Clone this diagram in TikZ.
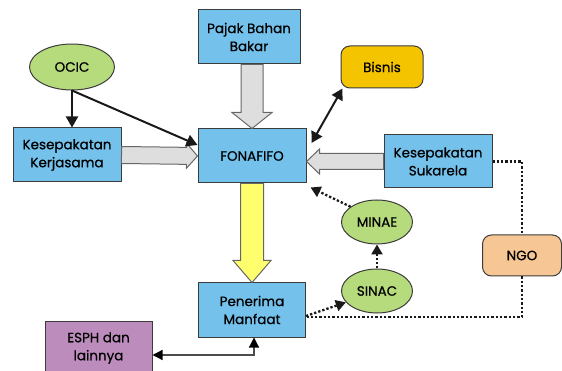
\documentclass[tikz,border=0pt]{standalone}
\usepackage{fontspec}
\setmainfont{Poppins}[FakeBold=0.7]
\usepackage{tikz}
\usetikzlibrary{arrows.meta,calc,shapes.geometric}

\definecolor{boxblue}{RGB}{116,194,235}
\definecolor{ovalgreen}{RGB}{182,219,124}
\definecolor{bisnisgold}{RGB}{245,196,0}
\definecolor{ngopeach}{RGB}{246,198,148}
\definecolor{esphpurple}{RGB}{188,140,188}
\definecolor{arrowgray}{RGB}{222,222,222}
\definecolor{arrowyellow}{RGB}{255,255,110}
\definecolor{edgegray}{RGB}{60,60,60}

% #1 style, #2 from, #3 to, #4 half shaft, #5 half head, #6 head length
\newcommand{\fatarrow}[6]{
    \coordinate (neck) at ($(#3)!#6!(#2)$);
    \filldraw[#1] ($(#2)!#4!90:(#3)$) -- ($(neck)!#4!90:(#3)$) -- ($(neck)!#5!90:(#3)$)
        -- (#3) -- ($(neck)!#5!-90:(#3)$) -- ($(neck)!#4!-90:(#3)$) -- ($(#2)!#4!-90:(#3)$) -- cycle;
}

\begin{document}
\begin{tikzpicture}[x=1pt,y=-1pt,
    font=\fontsize{13.5}{18}\selectfont,
    box/.style={rectangle, draw=edgegray, line width=1pt, fill=boxblue,
        minimum width=107pt, minimum height=54pt, align=center, inner sep=2pt},
    oval/.style={ellipse, draw=edgegray, line width=1pt, fill=ovalgreen,
        minimum width=71pt, minimum height=44pt, inner sep=0pt},
    roundbox/.style={rectangle, rounded corners=9pt, draw=edgegray, line width=1pt,
        minimum width=82pt, minimum height=42pt},
    grayarrow/.style={fill=arrowgray, draw=black!60, line width=1pt},
    solidline/.style={line width=2pt, black!90, -{Triangle[length=11pt,width=12pt]}},
    dotline/.style={line width=2.3pt, black!90, dash pattern=on 2.3pt off 2pt},
    dothead/.style={dotline, -{Triangle[length=10pt,width=11pt]}}]

    \useasboundingbox (0,0) rectangle (562,371);

    % the nodes
    \node[oval, minimum width=85pt, minimum height=46pt] (ocic) at (72,67) {OCIC};
    \node[box, minimum width=108pt] (kerja) at (67,155) {Kesepakatan\\Kerjasama};
    \node[box, minimum width=102pt] (pajak) at (249,37) {Pajak Bahan\\Bakar};
    \node[box, minimum width=108pt] (fonafifo) at (252,156) {FONAFIFO};
    \node[roundbox, fill=bisnisgold] (bisnis) at (382,67) {Bisnis};
    \node[box, minimum width=108pt, minimum height=53pt] (suka) at (438,161.5) {Kesepakatan\\Sukarela};
    \node[oval] (minae) at (377,222) {MINAE};
    \node[oval] (sinac) at (377,291) {SINAC};
    \node[roundbox, fill=ngopeach, minimum width=79pt, minimum height=41pt] (ngo) at (522,255.5) {NGO};
    \node[box] (penerima) at (252,310) {Penerima\\Manfaat};
    \node[box, fill=esphpurple] (esph) at (98.5,348) {ESPH dan\\lainnya};

    % block arrows
    \fatarrow{grayarrow}{pajak.south -| fonafifo.north}{fonafifo.north}{11pt}{20pt}{16pt}
    \fatarrow{grayarrow}{kerja.east}{fonafifo.west}{8.5pt}{12.5pt}{11pt}
    \fatarrow{grayarrow}{suka.west}{suka.west -| fonafifo.east}{8pt}{12.5pt}{13pt}
    \fatarrow{fill=arrowyellow, draw=black!60, line width=1pt}{fonafifo.south}{penerima.north}{11.5pt}{19pt}{22pt}

    % solid arrows
    \draw[solidline] (ocic.south) -- (ocic.south |- kerja.north);
    \draw[solidline] (ocic.south) -- ($(fonafifo.west)+(0,-11)$);
    \draw[line width=2pt, black!90, {Triangle[length=11pt,width=12pt]}-{Triangle[length=11pt,width=12pt]}]
        ($(fonafifo.east)+(5,-13)$) -- ($(bisnis.south west)+(2,0)$);
    \draw[line width=1.2pt, black!70, {Triangle[length=10pt,width=10pt,black]}-{Triangle[length=10pt,width=10pt,black]}]
        ($(esph.east)+(0,7)$) -| ($(penerima.south)+(2,0)$);

    % dotted lines
    \draw[dothead] (minae.150) -- ($(fonafifo.south east)+(4,4)$);
    \draw[dothead] (sinac.north) -- (minae.south);
    \draw[dothead] ($(penerima.east)+(0,6)$) -- (sinac.200);
    \draw[dotline] (suka.east) -| (ngo.north);
    \draw[dotline] (ngo.south) |- ($(penerima.east)+(0,7)$);
\end{tikzpicture}
\end{document}
